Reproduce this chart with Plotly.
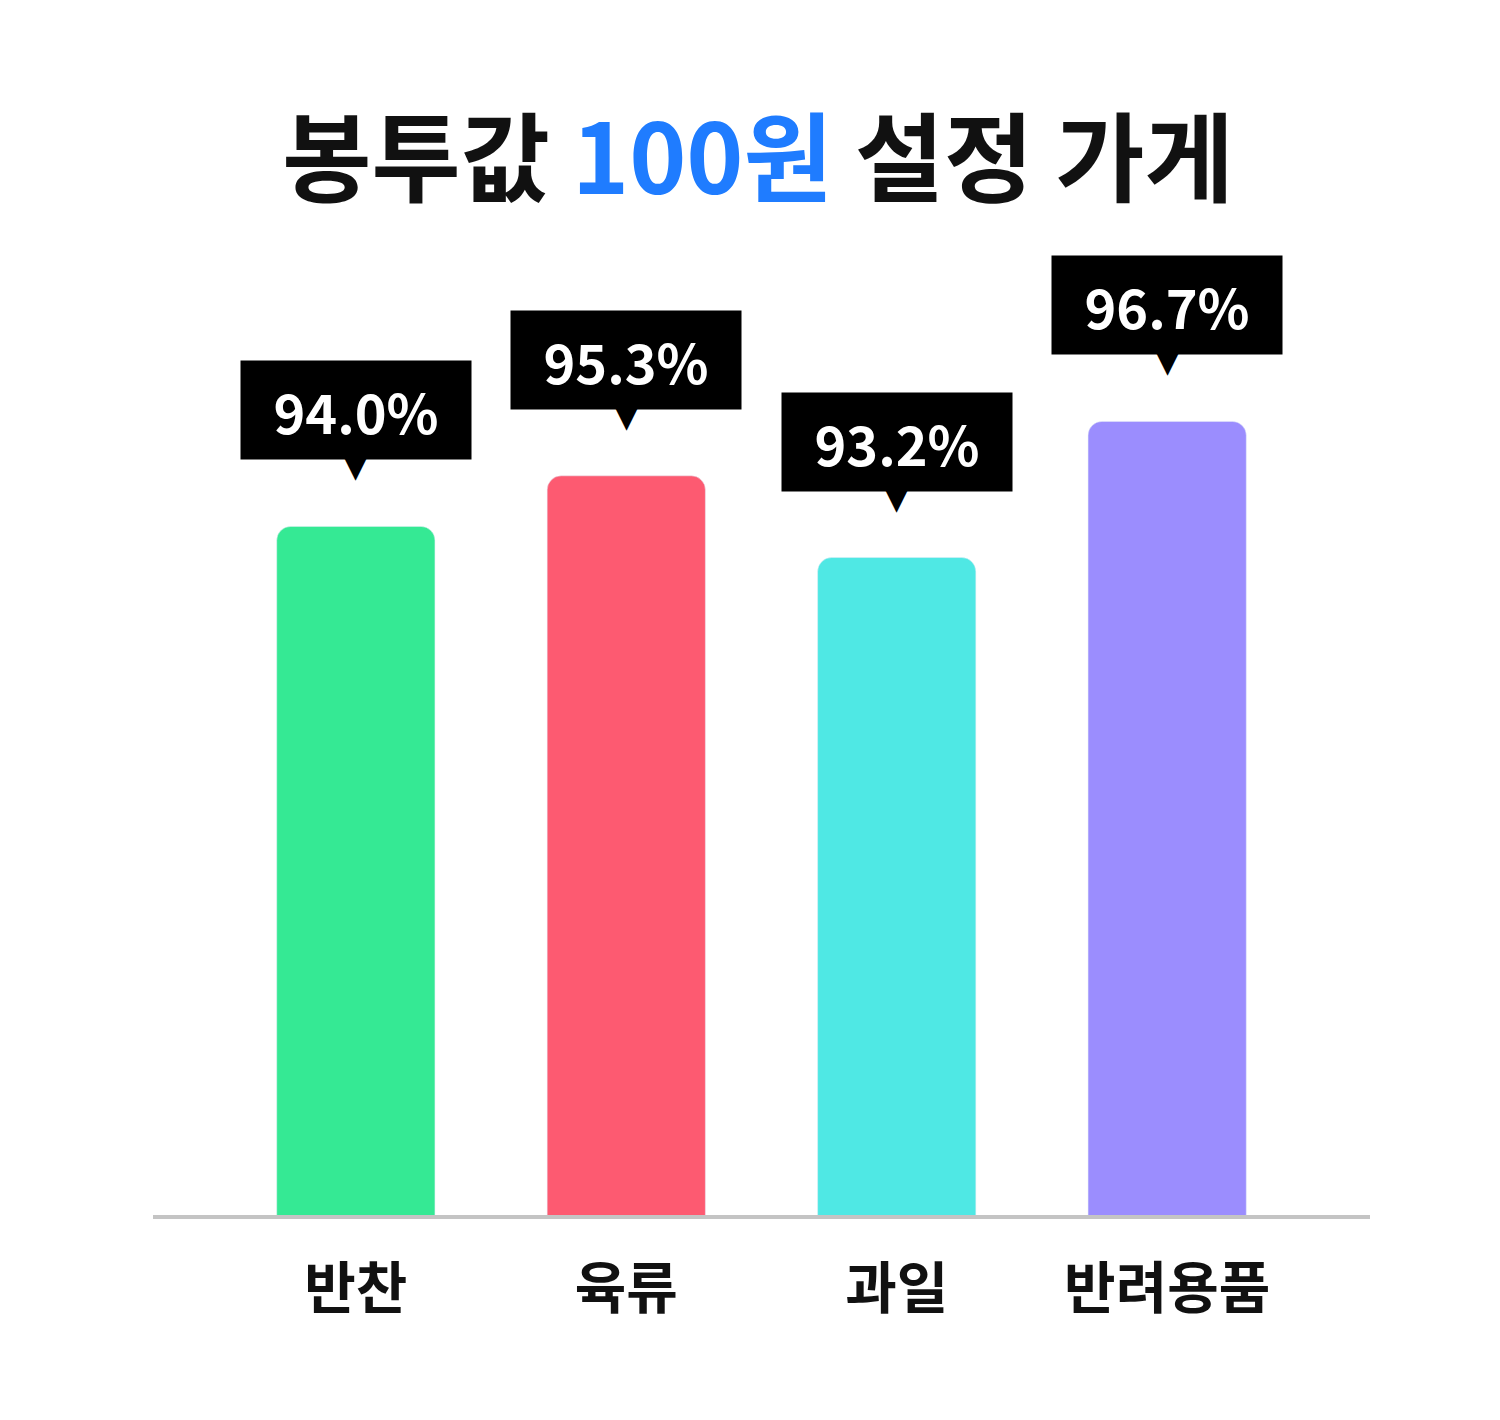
import plotly.graph_objects as go

categories = ["반찬", "육류", "과일", "반려용품"]
values = [94.0, 95.3, 93.2, 96.7]
labels = ["94.0%", "95.3%", "93.2%", "96.7%"]
colors = ["#35e994", "#fd5a71", "#4fe8e4", "#9b8dfe"]

F = "Noto Sans CJK KR"
fig = go.Figure(go.Bar(x=categories, y=values, marker=dict(color=colors, cornerradius=14),
                       width=0.585, hoverinfo="skip"))
for c, v, t in zip(categories, values, labels):
    fig.add_annotation(x=c, y=v, yref="y", text="<b>%s</b>" % t, showarrow=False,
                       yanchor="bottom", yshift=66, bgcolor="#000000", borderpad=12,
                       width=206, height=74,
                       font=dict(family=F, size=54, color="white"))
    fig.add_annotation(x=c, y=v, yref="y", text="▼", showarrow=False,
                       yanchor="bottom", yshift=40, font=dict(family="DejaVu Sans", size=30, color="black"))
fig.update_layout(
    width=1500, height=1420, paper_bgcolor="white", plot_bgcolor="white",
    margin=dict(l=145, r=138, t=285, b=213), showlegend=False,
    title=dict(text="<b>봉투값 <span style='color:#1f7cff'>100원</span> 설정 가게</b>",
               x=0.5, xanchor="center", y=0.893, yanchor="middle",
               font=dict(family=F, size=97, color="#111111")),
)
fig.update_xaxes(range=[-0.75, 3.75], showline=True, linecolor="#c4c4c4", linewidth=4, ticks="",
                 tickfont=dict(family=F, size=56, color="#111111"), ticklabelstandoff=22,
                 tickprefix="<b>", ticksuffix="</b>")
fig.update_yaxes(range=[76.3, 100], visible=False, showgrid=False)
fig.write_html("out.html")
